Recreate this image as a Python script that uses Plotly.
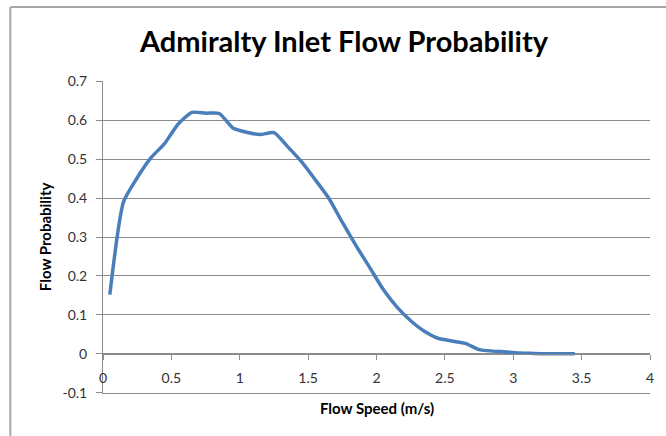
import plotly.graph_objects as go

# Flow speed bin centres (m/s) and the probability for each bin
flow_speed = [0.05, 0.15, 0.25, 0.35, 0.45, 0.55, 0.65, 0.75, 0.85, 0.95,
              1.05, 1.15, 1.25, 1.35, 1.45, 1.55, 1.65, 1.75, 1.85, 1.95,
              2.05, 2.15, 2.25, 2.35, 2.45, 2.55, 2.65, 2.75, 2.85, 2.95,
              3.05, 3.15, 3.25, 3.35, 3.45]
flow_probability = [0.152, 0.390, 0.452, 0.503, 0.540, 0.590, 0.620, 0.618, 0.617, 0.580,
                    0.569, 0.563, 0.568, 0.532, 0.494, 0.448, 0.400, 0.338, 0.278, 0.222,
                    0.165, 0.120, 0.085, 0.058, 0.040, 0.033, 0.027, 0.011, 0.007, 0.005,
                    0.002, 0.001, 0.000, 0.000, 0.000]

x_ticks = [0, 0.5, 1, 1.5, 2, 2.5, 3, 3.5, 4]
x_tick_text = ["0", "0.5", "1", "1.5", "2", "2.5", "3", "3.5", "4"]
y_ticks = [-0.1, 0, 0.1, 0.2, 0.3, 0.4, 0.5, 0.6, 0.7]
y_tick_text = ["-0.1", "0", "0.1", "0.2", "0.3", "0.4", "0.5", "0.6", "0.7"]

W, H = 666, 436
ML, MR, MT, MB = 103, 14, 81, 43
Y_MIN, Y_MAX = -0.1, 0.7
FONT = "Lato"
GRID = "#8c8c8c"

fig = go.Figure()
fig.add_trace(go.Scatter(
    x=flow_speed, y=flow_probability, mode="lines",
    line=dict(color="#4a7ebb", width=3.5, shape="spline", smoothing=0.6),
    showlegend=False, hoverinfo="x+y",
))

# category axis crosses the value axis at 0
x_axis_pos = (0 - Y_MIN) / (Y_MAX - Y_MIN)

fig.update_layout(
    width=W, height=H,
    margin=dict(l=ML, r=MR, t=MT, b=MB, pad=0),
    paper_bgcolor="white", plot_bgcolor="white",
    font=dict(family=FONT, color="#333333"),
    title=dict(text="<b>Admiralty Inlet Flow Probability</b>",
               font=dict(family=FONT, size=29, color="black"),
               x=344 / W, xanchor="center", xref="container",
               y=1 - 42 / H, yanchor="middle", yref="container"),
    xaxis=dict(range=[0, 4], tickvals=x_ticks, ticktext=x_tick_text,
               showgrid=False, zeroline=False,
               showline=True, linecolor=GRID, linewidth=1,
               anchor="free", position=x_axis_pos,
               ticks="outside", ticklen=5, tickcolor=GRID, tickwidth=1,
               ticklabelstandoff=6,
               tickfont=dict(size=14, color="#333333")),
    # plain line along the bottom edge of the plot area (the -0.1 level)
    xaxis2=dict(range=[0, 4], overlaying="x", anchor="y", side="bottom",
                showgrid=False, zeroline=False, showticklabels=False,
                showline=True, linecolor=GRID, linewidth=1, ticks=""),
    yaxis=dict(range=[Y_MIN - 0.0005, Y_MAX + 0.0005], tickvals=y_ticks, ticktext=y_tick_text,
               showgrid=True, gridcolor=GRID, gridwidth=1,
               zeroline=False,
               showline=True, linecolor=GRID, linewidth=1,
               ticks="outside", ticklen=6, tickcolor=GRID, tickwidth=1,
               ticklabelstandoff=6,
               tickfont=dict(size=14, color="#333333")),
    annotations=[
        dict(text="<b>Flow Speed (m/s)</b>", xref="paper", yref="paper",
             x=0.5, y=-(408 - (H - MB)) / (H - MT - MB), xanchor="center", yanchor="middle",
             showarrow=False, font=dict(family=FONT, size=15, color="black")),
        dict(text="<b>Flow Probability</b>", xref="paper", yref="paper",
             x=-(ML - 45) / (W - ML - MR), y=0.5, xanchor="center", yanchor="middle",
             textangle=-90, showarrow=False,
             font=dict(family=FONT, size=15, color="black")),
    ],
    shapes=[
        # chart area frame (left and top edges visible)
        dict(type="line", xref="paper", yref="paper",
             x0=-(ML - 10) / (W - ML - MR), x1=-(ML - 10) / (W - ML - MR),
             y0=-(MB + 5) / (H - MT - MB), y1=1 + (MT - 7) / (H - MT - MB),
             line=dict(color="#a6a6a6", width=2)),
        dict(type="line", xref="paper", yref="paper",
             x0=-(ML - 10) / (W - ML - MR), x1=1 + (MR + 5) / (W - ML - MR),
             y0=1 + (MT - 7) / (H - MT - MB), y1=1 + (MT - 7) / (H - MT - MB),
             line=dict(color="#a6a6a6", width=2)),
    ],
)

# invisible companion trace so the bottom-edge axis is rendered
fig.add_trace(go.Scatter(x=[], y=[], xaxis="x2", yaxis="y", showlegend=False))

fig.write_html("out.html")
